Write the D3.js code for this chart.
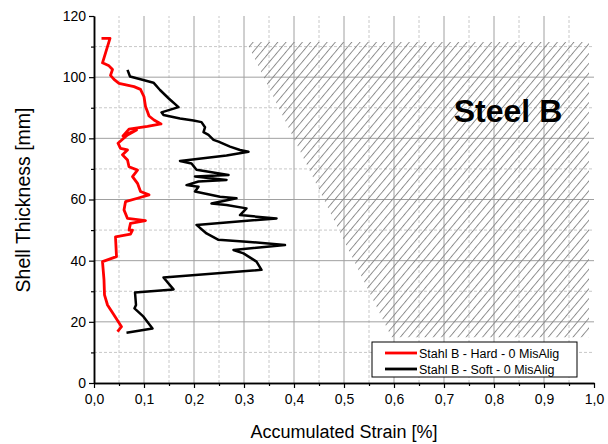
<!DOCTYPE html>
<html>
<head>
<meta charset="utf-8">
<script src="https://cdn.jsdelivr.net/npm/d3@7"></script>
<style>
  html, body { margin: 0; padding: 0; background: #fff; }
  svg { display: block; font-family: "Liberation Sans", Arial, sans-serif; }
</style>
</head>
<body>
<svg id="chart" width="608" height="444"></svg>
<script>
// Accumulated strain [%] against shell thickness [mm]
const hardStrain = [0.015, 0.032, 0.017, 0.030, 0.037, 0.033, 0.040, 0.050, 0.080, 0.093, 0.100, 0.103, 0.107, 0.110, 0.120, 0.134, 0.107, 0.070, 0.058, 0.085, 0.067, 0.048, 0.053, 0.067, 0.057, 0.067, 0.070, 0.087, 0.077, 0.087, 0.093, 0.110, 0.087, 0.063, 0.060, 0.067, 0.103, 0.073, 0.070, 0.077, 0.073, 0.043, 0.045, 0.017, 0.020, 0.021, 0.027, 0.040, 0.055, 0.047];
const hardThickness = [112.7, 112.7, 104.7, 103.7, 102.5, 100.6, 99.3, 98.0, 96.9, 96.0, 93.6, 90.4, 88.7, 87.3, 86.0, 84.7, 83.9, 83.0, 80.8, 82.7, 81.1, 78.4, 76.7, 76.2, 74.6, 72.9, 70.7, 69.6, 67.5, 65.3, 62.6, 61.5, 60.4, 59.3, 56.6, 53.8, 53.1, 52.2, 50.0, 50.0, 48.7, 47.8, 41.3, 39.7, 33.7, 28.8, 25.5, 22.2, 18.4, 16.8];

const softStrain = [0.067, 0.072, 0.093, 0.119, 0.132, 0.149, 0.169, 0.135, 0.139, 0.172, 0.199, 0.215, 0.222, 0.219, 0.229, 0.239, 0.249, 0.272, 0.292, 0.309, 0.265, 0.172, 0.195, 0.205, 0.269, 0.202, 0.265, 0.209, 0.185, 0.209, 0.202, 0.252, 0.285, 0.235, 0.265, 0.305, 0.292, 0.365, 0.205, 0.225, 0.249, 0.305, 0.382, 0.279, 0.299, 0.325, 0.335, 0.139, 0.159, 0.082, 0.084, 0.081, 0.099, 0.117, 0.065];
const softThickness = [102.4, 100.2, 99.3, 98.2, 95.8, 93.1, 90.2, 88.5, 87.6, 86.5, 85.8, 85.3, 83.6, 82.0, 81.1, 79.5, 78.9, 77.3, 76.2, 75.6, 74.4, 72.6, 71.8, 69.7, 68.0, 67.5, 66.4, 65.9, 64.7, 64.2, 62.6, 60.9, 60.4, 58.7, 58.2, 57.1, 54.9, 53.8, 51.7, 48.9, 46.8, 46.2, 45.1, 43.5, 42.4, 39.7, 37.0, 34.5, 30.6, 29.6, 25.5, 24.4, 21.7, 17.8, 16.4];

// Region outline of the shaded zone
const zoneStrain = [0.305, 0.99, 0.99, 0.595];
const zoneThickness = [111.5, 111.5, 15.0, 15.0];

const seriesNames = ["Stahl B - Hard - 0 MisAlig", "Stahl B - Soft - 0 MisAlig"];
const seriesColors = ["#ff0000", "#000000"];
const xTickValues = [0, 0.1, 0.2, 0.3, 0.4, 0.5, 0.6, 0.7, 0.8, 0.9, 1.0];
const yTickValues = [0, 20, 40, 60, 80, 100, 120];
const titleText = "Steel B";

const svg = d3.select("#chart");
const x = d3.scaleLinear().domain([0, 1]).range([94, 594]);
const y = d3.scaleLinear().domain([0, 120]).range([383, 16]);

// hatch pattern
const defs = svg.append("defs");
const pat = defs.append("pattern")
  .attr("id", "hatch")
  .attr("patternUnits", "userSpaceOnUse")
  .attr("width", 6.3).attr("height", 6.3)
  .attr("patternTransform", "rotate(40)");
pat.append("line")
  .attr("x1", 0.5).attr("y1", 0).attr("x2", 0.5).attr("y2", 6.3)
  .attr("stroke", "#858585").attr("stroke-width", 0.9);

// grid
const grid = svg.append("g");
const minorX = d3.range(0.05, 1.0, 0.1);
const majorX = d3.range(0.1, 0.95, 0.1);
const minorY = d3.range(10, 120, 20);
const majorY = d3.range(20, 110, 20);

grid.selectAll(".vminor").data(minorX).join("line")
  .attr("x1", d => x(d)).attr("x2", d => x(d))
  .attr("y1", y(0)).attr("y2", y(120))
  .attr("stroke", "#c8c8c8").attr("stroke-dasharray", "3,2").attr("stroke-width", 1);
grid.selectAll(".hminor").data(minorY).join("line")
  .attr("x1", x(0)).attr("x2", x(1))
  .attr("y1", d => y(d)).attr("y2", d => y(d))
  .attr("stroke", "#c8c8c8").attr("stroke-dasharray", "3,2").attr("stroke-width", 1);
grid.selectAll(".vmajor").data(majorX).join("line")
  .attr("x1", d => x(d)).attr("x2", d => x(d))
  .attr("y1", y(0)).attr("y2", y(120))
  .attr("stroke", "#a0a0a0").attr("stroke-width", 1);
grid.selectAll(".hmajor").data(majorY).join("line")
  .attr("x1", x(0)).attr("x2", x(1))
  .attr("y1", d => y(d)).attr("y2", d => y(d))
  .attr("stroke", "#a0a0a0").attr("stroke-width", 1);

// shaded zone
const zonePts = zoneStrain.map((s, i) => [x(s), y(zoneThickness[i])]);
svg.append("path")
  .attr("d", d3.line()(zonePts) + "Z")
  .attr("fill", "url(#hatch)");

// series
const line = d3.line().x(d => x(d[0])).y(d => y(d[1]));
const hard = hardStrain.map((s, i) => [s, hardThickness[i]]);
const soft = softStrain.map((s, i) => [s, softThickness[i]]);

svg.append("path").datum(soft)
  .attr("d", line).attr("fill", "none")
  .attr("stroke", seriesColors[1]).attr("stroke-width", 2.5)
  .attr("stroke-linejoin", "round");
svg.append("path").datum(hard)
  .attr("d", line).attr("fill", "none")
  .attr("stroke", seriesColors[0]).attr("stroke-width", 2.8)
  .attr("stroke-linejoin", "round");

// axes
const fmt = d => d3.format(".1f")(d).replace(".", ",");
const xAxis = svg.append("g").attr("transform", `translate(0,${y(0)})`)
  .call(d3.axisBottom(x).tickValues(xTickValues).tickFormat(fmt).tickSize(5).tickSizeOuter(0));
const xMinor = svg.append("g").attr("transform", `translate(0,${y(0)})`)
  .call(d3.axisBottom(x).tickValues(minorX).tickFormat("").tickSize(3).tickSizeOuter(0));
const yAxis = svg.append("g").attr("transform", `translate(${x(0)},0)`)
  .call(d3.axisLeft(y).tickValues(yTickValues).tickSize(5).tickSizeOuter(0));
const yMinor = svg.append("g").attr("transform", `translate(${x(0)},0)`)
  .call(d3.axisLeft(y).tickValues(minorY).tickFormat("").tickSize(3).tickSizeOuter(0));

[xAxis, xMinor, yAxis, yMinor].forEach(g => {
  g.select(".domain").attr("stroke", "#000").attr("stroke-width", 1.5);
  g.selectAll(".tick line").attr("stroke", "#000").attr("stroke-width", 1.2);
  g.selectAll("text").attr("fill", "#000").style("font-size", "14px")
    .style("font-family", "'Liberation Sans', Arial, sans-serif");
});
xAxis.selectAll("text").attr("dy", "0.95em");

// axis titles
svg.append("text")
  .attr("x", 344).attr("y", 438)
  .attr("text-anchor", "middle")
  .style("font-size", "18px")
  .text("Accumulated Strain [%]");
svg.append("text")
  .attr("transform", "translate(30,200) rotate(-90)")
  .attr("text-anchor", "middle")
  .style("font-size", "19.5px")
  .text("Shell Thickness [mm]");

// panel title
svg.append("text")
  .attr("x", 508).attr("y", 122)
  .attr("text-anchor", "middle")
  .style("font-size", "32px").style("font-weight", "bold")
  .text(titleText);

// legend
const lg = svg.append("g").attr("transform", "translate(372,342)");
lg.append("rect").attr("width", 205).attr("height", 35)
  .attr("fill", "#fff").attr("stroke", "#000").attr("stroke-width", 1);
seriesNames.forEach((name, i) => {
  const yy = 11 + i * 16;
  lg.append("line").attr("x1", 13).attr("x2", 45).attr("y1", yy).attr("y2", yy)
    .attr("stroke", seriesColors[i]).attr("stroke-width", 2.8);
  lg.append("text").attr("x", 47).attr("y", yy + 4.5)
    .style("font-size", "12.5px").text(name);
});
</script>
</body>
</html>
